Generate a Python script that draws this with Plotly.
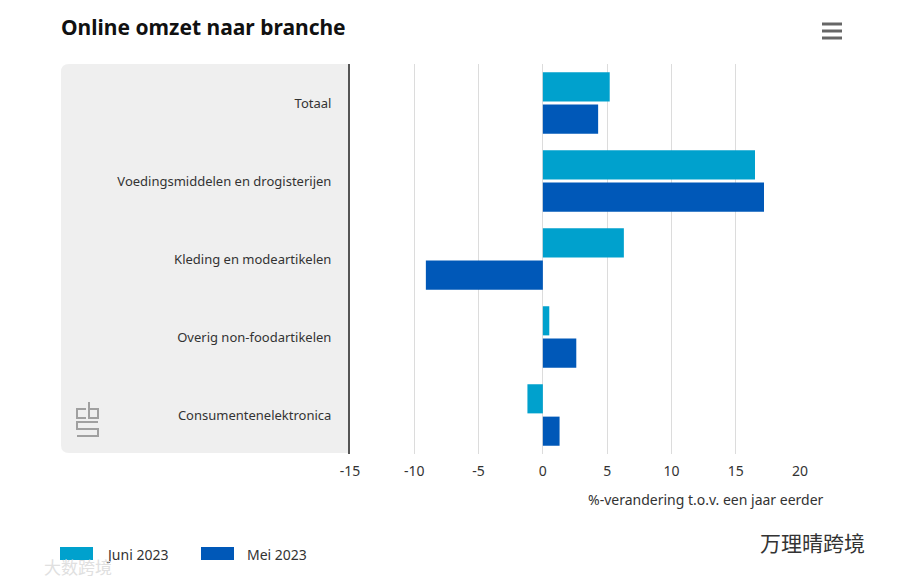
import plotly.graph_objects as go

categories = ["Totaal", "Voedingsmiddelen en drogisterijen", "Kleding en modeartikelen",
              "Overig non-foodartikelen", "Consumentenelektronica"]
juni_2023 = [5.2, 16.5, 6.3, 0.5, -1.2]
mei_2023 = [4.3, 17.2, -9.1, 2.6, 1.3]
x_ticks = [-15, -10, -5, 0, 5, 10, 15, 20]
x_tick_labels = ["-15", "-10", "-5", "0", "5", "10", "15", "20"]

C_JUNI = "#00a1cd"
C_MEI = "#0058b8"
FONT = "Noto Sans"

W, H = 900, 582
ML, MR, MT, MB = 350, 100, 64, 128
PW, PH = W - ML - MR, H - MT - MB


def px(x):
    return (x - ML) / PW


def py(y):
    return (H - MB - y) / PH


fig = go.Figure()
fig.add_trace(go.Bar(y=categories, x=juni_2023, name="Juni 2023", orientation="h",
                     marker=dict(color=C_JUNI, line=dict(width=0))))
fig.add_trace(go.Bar(y=categories, x=mei_2023, name="Mei 2023", orientation="h",
                     marker=dict(color=C_MEI, line=dict(width=0))))

shapes = []
# grey label panel with rounded left corners
x0, x1, y0, y1 = px(61), px(349), py(453), py(64)
rx, ry = 8 / PW, 8 / PH
shapes.append(dict(type="path", xref="paper", yref="paper", layer="below",
                   path=(f"M {x1} {y0} L {x0+rx} {y0} Q {x0} {y0} {x0} {y0+ry} "
                         f"L {x0} {y1-ry} Q {x0} {y1} {x0+rx} {y1} L {x1} {y1} Z"),
                   fillcolor="#efefef", line=dict(width=0)))
# CBS logo
logo = dict(type="path", xref="paper", yref="paper", line=dict(color="#a0a0a0", width=2))


def pth(pts):
    return "M " + " L ".join(f"{px(a)} {py(b)}" for a, b in pts)


shapes.append({**logo, "path": pth([(86, 409), (77, 409), (77, 418), (86, 418)])})
shapes.append({**logo, "path": pth([(89, 402), (89, 418), (98, 418), (98, 409), (89, 409)])})
shapes.append({**logo, "path": pth([(98, 422), (77, 422), (77, 429), (98, 429), (98, 436), (77, 436)])})
# hamburger menu
for yy in (24, 31, 38):
    shapes.append(dict(type="line", xref="paper", yref="paper", x0=px(822), x1=px(842),
                       y0=py(yy), y1=py(yy), line=dict(color="#666666", width=3)))
# legend swatches
shapes.append(dict(type="rect", xref="paper", yref="paper", x0=px(60), x1=px(93),
                   y0=py(547), y1=py(560), fillcolor=C_JUNI, line=dict(width=0)))
shapes.append(dict(type="rect", xref="paper", yref="paper", x0=px(201), x1=px(234),
                   y0=py(547), y1=py(560), fillcolor=C_MEI, line=dict(width=0)))

annotations = [
    dict(text="Online omzet naar branche", xref="paper", yref="paper", x=px(59), y=py(27),
         xanchor="left", yanchor="middle", showarrow=False,
         font=dict(family=FONT, size=21, color="#111111", weight="bold")),
    dict(text="%-verandering t.o.v. een jaar eerder", xref="paper", yref="paper",
         x=px(826), y=py(499), xanchor="right", yanchor="middle", showarrow=False,
         font=dict(family=FONT, size=14, color="#333333")),
    dict(text="Juni 2023", xref="paper", yref="paper", x=px(104), y=py(554),
         xanchor="left", yanchor="middle", showarrow=False,
         font=dict(family=FONT, size=14, color="#333333")),
    dict(text="Mei 2023", xref="paper", yref="paper", x=px(245), y=py(554),
         xanchor="left", yanchor="middle", showarrow=False,
         font=dict(family=FONT, size=14, color="#333333")),
    dict(text="万理晴跨境", xref="paper", yref="paper", x=px(758), y=py(542),
         xanchor="left", yanchor="middle", showarrow=False,
         font=dict(family="Noto Sans CJK SC", size=21, color="#333333")),
    dict(text="大数跨境", xref="paper", yref="paper", x=px(42), y=py(566),
         xanchor="left", yanchor="middle", showarrow=False,
         font=dict(family="Noto Sans CJK SC", size=17, color="#e0e0e0")),
]

fig.update_layout(
    width=W, height=H,
    margin=dict(l=ML, r=MR, t=MT, b=MB),
    paper_bgcolor="white", plot_bgcolor="white",
    barmode="group", bargap=0.17, bargroupgap=0.1,
    showlegend=False,
    font=dict(family=FONT, size=13, color="#333333"),
    shapes=shapes, annotations=annotations,
    xaxis=dict(range=[-15, 20], tickvals=x_ticks, ticktext=x_tick_labels,
               showgrid=True, gridcolor="#dcdcdc",
               gridwidth=1, zeroline=False, showline=False, ticks="",
               tickfont=dict(size=14, color="#333333"), ticklabelstandoff=7),
    yaxis=dict(autorange="reversed", showline=True, linecolor="#555555", linewidth=2,
               ticks="", showgrid=False, ticklabelstandoff=14,
               tickfont=dict(size=13, color="#333333")),
)

fig.write_html("out.html", config={"displayModeBar": False},
               post_script="document.body.style.margin='0';")
